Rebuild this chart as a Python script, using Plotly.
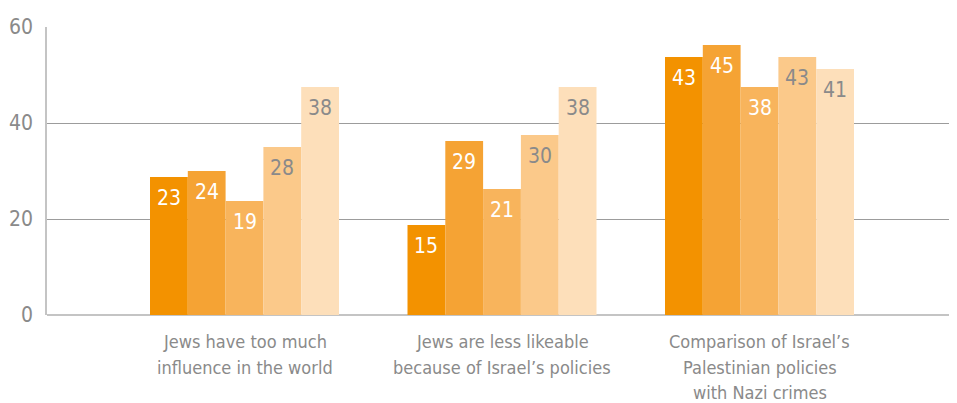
import plotly.graph_objects as go

categories = [
    "Jews have too much<br>influence in the world",
    "Jews are less likeable<br>because of Israel’s policies",
    "Comparison of Israel’s<br>Palestinian policies<br>with Nazi crimes",
]
series_names = ["Series 1", "Series 2", "Series 3", "Series 4", "Series 5"]
series_values = [
    [23, 15, 43],
    [24, 29, 45],
    [19, 21, 38],
    [28, 30, 43],
    [38, 38, 41],
]
bar_colors = ["#F39200", "#F5A334", "#F8B45C", "#FBC98A", "#FDDFBA"]
label_colors = ["#FFFFFF", "#FFFFFF", "#FFFFFF", "#8A8A8A", "#8A8A8A"]
tick_values = [0, 16, 32, 48]
tick_labels = ["0", "20", "40", "60"]

FONT = "DejaVu Sans Condensed"
GROUP_WIDTH = 0.734
n_series = len(series_names)
bw = GROUP_WIDTH / n_series

fig = go.Figure()
annotations = []
for j, (name, vals, col, lcol) in enumerate(zip(series_names, series_values, bar_colors, label_colors)):
    off = -GROUP_WIDTH / 2 + j * bw
    fig.add_trace(go.Bar(
        x=list(range(len(categories))),
        y=vals,
        name=name,
        width=bw,
        offset=off,
        marker=dict(color=col, line=dict(width=0)),
        hoverinfo="y",
    ))
    for i, v in enumerate(vals):
        annotations.append(dict(
            x=i + off + bw / 2, y=v, xref="x", yref="y",
            text=str(v), showarrow=False,
            yanchor="middle", xanchor="center", yshift=-21,
            font=dict(family=FONT, size=21, color=lcol),
        ))

line_offsets = [26, 52, 77]
for i, cat in enumerate(categories):
    for k, line in enumerate(cat.split("<br>")):
        annotations.append(dict(
            x=i, y=0, xref="x", yref="paper",
            text=line, showarrow=False,
            xanchor="center", yanchor="middle", yshift=-line_offsets[k],
            font=dict(family=FONT, size=18, color="#8A8A8A"),
        ))

# the page body has an 8px margin, so the figure is 8px smaller than the window
fig.update_layout(
    width=949, height=395,
    margin=dict(l=39, r=0, t=19, b=88),
    paper_bgcolor="white", plot_bgcolor="white",
    barmode="overlay",
    showlegend=False,
    font=dict(family=FONT, color="#8A8A8A"),
    annotations=annotations,
)
fig.update_xaxes(
    tickmode="array",
    tickvals=list(range(len(categories))),
    ticktext=["", "", ""],
    range=[-0.767, 2.767],
    showgrid=False, zeroline=False,
    showline=False,
    ticks="",
    automargin=False,
)
fig.update_yaxes(
    range=[0, 48],
    tickmode="array",
    tickvals=tick_values,
    ticktext=tick_labels,
    showgrid=True, gridcolor="#9C9C9C", gridwidth=1,
    zeroline=True, zerolinecolor="#C4C4C4", zerolinewidth=2,
    showline=True, linecolor="#C4C4C4", linewidth=1.5,
    ticks="",
    tickfont=dict(family=FONT, size=21, color="#8A8A8A"),
    ticklabelstandoff=8,
    automargin=False,
)

fig.write_html("out.html")
